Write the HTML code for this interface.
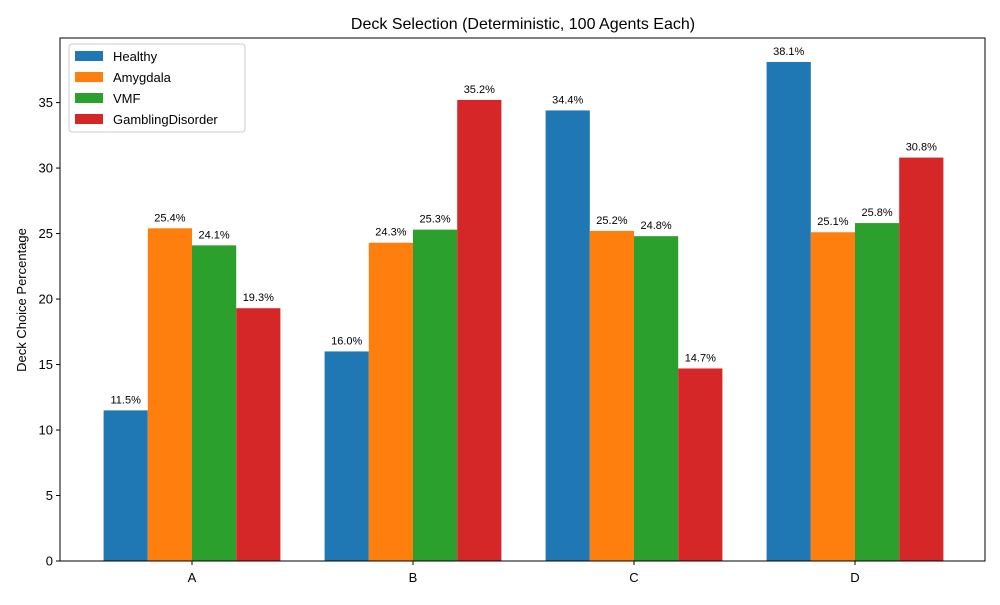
<!DOCTYPE html>
<html><head><meta charset="utf-8"><style>
body{margin:0;background:#fff;font-family:"Liberation Sans","DejaVu Sans",sans-serif}
</style></head><body>
<svg id="chart" width="1000" height="600" xmlns="http://www.w3.org/2000/svg"></svg>
<script>
const categories=["A","B","C","D"];
const seriesNames=["Healthy","Amygdala","VMF","GamblingDisorder"];
const healthy=[11.5,16.0,34.4,38.1];
const amygdala=[25.4,24.3,25.2,25.1];
const vmf=[24.1,25.3,24.8,25.8];
const gambling=[19.3,35.2,14.7,30.8];
const yTicks=[0,5,10,15,20,25,30,35];
const series=[healthy,amygdala,vmf,gambling];
const colors=["#1f77b4","#ff7f0e","#2ca02c","#d62728"];
const NS="http://www.w3.org/2000/svg";
const svg=document.getElementById('chart');
const L=60,R=985,T=38,B=561,yMax=39.93;
const y=v=>B-(v/yMax)*(B-T);
const step=(R-L)/(categories.length-0.2+0.0);
const x=i=>192+i*221;
const bw=44.2;
function el(t,a,txt){const e=document.createElementNS(NS,t);for(const k in a)e.setAttribute(k,a[k]);if(txt!==undefined)e.textContent=txt;svg.appendChild(e);return e;}
let e;
e=el('text',{x:523,y:29,'text-anchor':'middle','font-size':16,fill:'#000'},'Deck Selection (Deterministic, 100 Agents Each)');

series.forEach((s,si)=>{s.forEach((v,ci)=>{
 const bx=x(ci)-2*bw+si*bw;
 e=el('rect',{x:bx,y:y(v),width:bw,height:B-y(v),fill:colors[si]});
 
 
 e=el('text',{x:bx+bw/2,y:y(v)-7,'text-anchor':'middle','font-size':11,fill:'#000'},v.toFixed(1)+'%');
 
});});
e=el('rect',{x:L,y:T,width:R-L,height:B-T,fill:'none',stroke:'#000','stroke-width':1});

yTicks.forEach(t=>{
 e=el('line',{x1:L-4,x2:L,y1:y(t),y2:y(t),stroke:'#000'});
 
 e=el('text',{x:L-7,y:y(t)+4.5,'text-anchor':'end','font-size':13},String(t));
 
});
categories.forEach((c,i)=>{
 e=el('line',{x1:x(i),x2:x(i),y1:B,y2:B+4,stroke:'#000'});
 
 e=el('text',{x:x(i),y:B+21,'text-anchor':'middle','font-size':13},c);
 
});
e=el('text',{x:26,y:300,'text-anchor':'middle','font-size':13,transform:'rotate(-90 26 300)'},'Deck Choice Percentage');

e=el('rect',{x:69,y:44,width:176,height:88,fill:'#fff',stroke:'#ccc',rx:3});

seriesNames.forEach((n,i)=>{
 const ly=51+i*21;
 e=el('rect',{x:75,y:ly,width:28,height:10,fill:colors[i]});
 
 e=el('text',{x:113,y:ly+10,'font-size':13},n);
 
});
</script>
</body></html>
